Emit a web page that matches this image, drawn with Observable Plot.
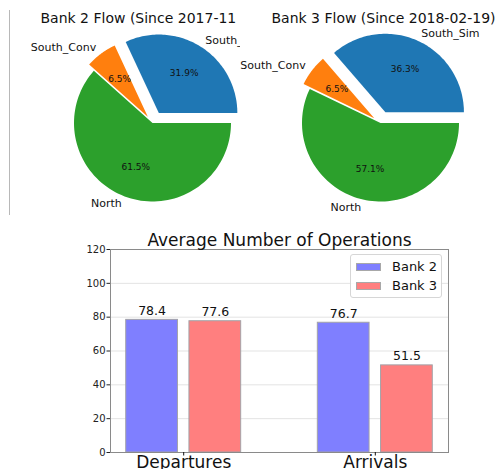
<!DOCTYPE html>
<html>
<head>
<meta charset="utf-8">
<script src="https://cdn.jsdelivr.net/npm/d3@7"></script>
<script src="https://cdn.jsdelivr.net/npm/@observablehq/plot@0.6"></script>
<style>
  html, body { margin: 0; padding: 0; background: white; }
  #fig { position: relative; width: 498px; height: 469px; overflow: hidden; font-family: "DejaVu Sans", sans-serif; }
  #fig > .slot { position: absolute; overflow: hidden; }
  #fig svg { overflow: hidden; display: block; }
  #spine { position: absolute; left: 9px; top: 10px; height: 205px; border-left: 1px solid #b8b8b8; }
  #legend { position: absolute; left: 350px; top: 254px; width: 90px; height: 42px; border: 1px solid #d6d6d6; border-radius: 3px; background: rgba(255,255,255,0.85); }
  .lg-row { position: absolute; left: 5px; height: 19px; display: flex; align-items: center; font-size: 13px; color: #111; }
  .lg-sw { width: 25px; height: 8px; margin-right: 11px; border: 1px solid #a8a8a8; box-sizing: border-box; }
</style>
</head>
<body>
<div id="fig">
  <div id="spine"></div>
  <div class="slot" id="pie1" style="left:0;top:0;width:240px;height:225px"></div>
  <div class="slot" id="pie2" style="left:240px;top:0;width:258px;height:225px"></div>
  <div class="slot" id="bars" style="left:0;top:225px;width:498px;height:244px"></div>
  <div id="legend"></div>
</div>
<script>
// ---------- data ----------
const pieLabels = ["South_Sim", "South_Conv", "North"];
const bank2Share = [31.9, 6.5, 61.5];
const bank3Share = [36.3, 6.5, 57.1];
const pieColors = ["#1f77b4", "#ff7f0e", "#2ca02c"];
const pieExplode = [0.15, 0.1, 0];
const pie1Title = "Bank 2 Flow (Since 2017-11";
const pie2Title = "Bank 3 Flow (Since 2018-02-19)";

const opCategories = ["Departures", "Arrivals"];
const seriesNames = ["Bank 2", "Bank 3"];
const bank2Ops = [78.4, 76.7];
const bank3Ops = [77.6, 51.5];
const seriesColors = ["#7f7fff", "#ff7f7f"];
const yTicks = [0, 20, 40, 60, 80, 100, 120];
const barTitle = "Average Number of Operations";

const FONT = "DejaVu Sans";
const TXT = "#111";

// ---------- pie helper ----------
function pieGeometry(values) {
  const total = d3.sum(values);
  let acc = 0;
  return values.map((v, i) => {
    const a0 = acc / total * 2 * Math.PI; acc += v;
    const a1 = acc / total * 2 * Math.PI;
    const mid = (a0 + a1) / 2;
    const ox = pieExplode[i] * Math.cos(mid), oy = pieExplode[i] * Math.sin(mid);
    const pts = [{x: ox, y: oy}];
    const n = 90;
    for (let k = 0; k <= n; k++) {
      const a = a0 + (a1 - a0) * k / n;
      pts.push({x: ox + Math.cos(a), y: oy + Math.sin(a)});
    }
    return {
      label: pieLabels[i], color: pieColors[i], pts,
      lx: ox + 1.1 * Math.cos(mid), ly: oy + 1.1 * Math.sin(mid),
      px: ox + 0.6 * Math.cos(mid), py: oy + 0.6 * Math.sin(mid),
      pct: v.toFixed(1) + "%"
    };
  });
}

function piePlot(values, width, cx, cy, r, titleMark) {
  const g = pieGeometry(values);
  return Plot.plot({
    width, height: 225, margin: 0,
    style: {fontFamily: FONT, background: "transparent", overflow: "hidden"},
    x: {domain: [-1, 1], range: [cx - r, cx + r], axis: null},
    y: {domain: [-1, 1], range: [cy + r, cy - r], axis: null},
    marks: [
      ...g.map(s => Plot.line(s.pts, {x: "x", y: "y", fill: s.color, stroke: "none", curve: "linear-closed"})),
      Plot.text(g.filter(s => s.lx >= 0), {x: "lx", y: "ly", text: "label", textAnchor: "start", fontSize: 11, fill: TXT}),
      Plot.text(g.filter(s => s.lx < 0), {x: "lx", y: "ly", text: "label", textAnchor: "end", fontSize: 11, fill: TXT}),
      Plot.text(g, {x: "px", y: "py", text: "pct", fontSize: 9, fill: TXT}),
      titleMark
    ]
  });
}

document.getElementById("pie1").appendChild(
  piePlot(bank2Share, 240, 152, 122.5, 78.5,
    Plot.text([pie1Title], {frameAnchor: "top-left", textAnchor: "start", lineAnchor: "bottom", dx: 40, dy: 22, fontSize: 14, fill: TXT}))
);
document.getElementById("pie2").appendChild(
  piePlot(bank3Share, 258, 140, 122.5, 78.5,
    Plot.text([pie2Title], {x: () => 0, frameAnchor: "top", lineAnchor: "bottom", dx: 3, dy: 22, fontSize: 14, fill: TXT}))
);

// ---------- bar chart ----------
const barW = 0.27, barGap = 0.06;
const barData = [];
opCategories.forEach((c, i) => {
  [bank2Ops, bank3Ops].forEach((arr, j) => {
    const center = i + (j - 0.5) * (barW + barGap);
    barData.push({cat: c, series: seriesNames[j], value: arr[i], color: seriesColors[j],
                  x1: center - barW / 2, x2: center + barW / 2, xc: center});
  });
});

document.getElementById("bars").appendChild(Plot.plot({
  width: 498, height: 244,
  marginLeft: 110, marginRight: 50, marginTop: 24, marginBottom: 17,
  style: {fontFamily: FONT, background: "transparent", overflow: "hidden"},
  x: {domain: [-0.382, 1.382]},
  y: {domain: [0, 120]},
  color: {type: "identity"},
  marks: [
    Plot.gridY(yTicks, {stroke: "#e3e3e3", strokeOpacity: 1}),
    Plot.rectY(barData, {x1: "x1", x2: "x2", y1: 0, y2: "value", fill: "color", stroke: "#a3a3a8", strokeWidth: 1}),
    Plot.text(barData, {x: "xc", y: "value", text: d => d.value.toFixed(1), lineAnchor: "bottom", dy: -5, fontSize: 12.5, fill: TXT}),
    Plot.frame({stroke: "#8a8a8a"}),
    Plot.axisY({ticks: yTicks, tickSize: 3.5, tickPadding: 1.5, fontSize: 10, label: null, color: "#222"}),
    Plot.axisX({ticks: [0, 1], tickFormat: i => opCategories[i], tickSize: 3.5, tickPadding: 0, fontSize: 17, label: null, color: "#111"}),
    Plot.text([barTitle], {frameAnchor: "top", lineAnchor: "bottom", dy: -3.5, fontSize: 17, fill: TXT})
  ]
}));

// ---------- legend ----------
const legend = document.getElementById("legend");
seriesNames.forEach((name, j) => {
  const row = document.createElement("div");
  row.className = "lg-row";
  row.style.top = (2 + j * 19) + "px";
  const sw = document.createElement("div");
  sw.className = "lg-sw";
  sw.style.background = seriesColors[j];
  const t = document.createElement("span");
  t.textContent = name;
  row.appendChild(sw); row.appendChild(t);
  legend.appendChild(row);
});
</script>
</body>
</html>
